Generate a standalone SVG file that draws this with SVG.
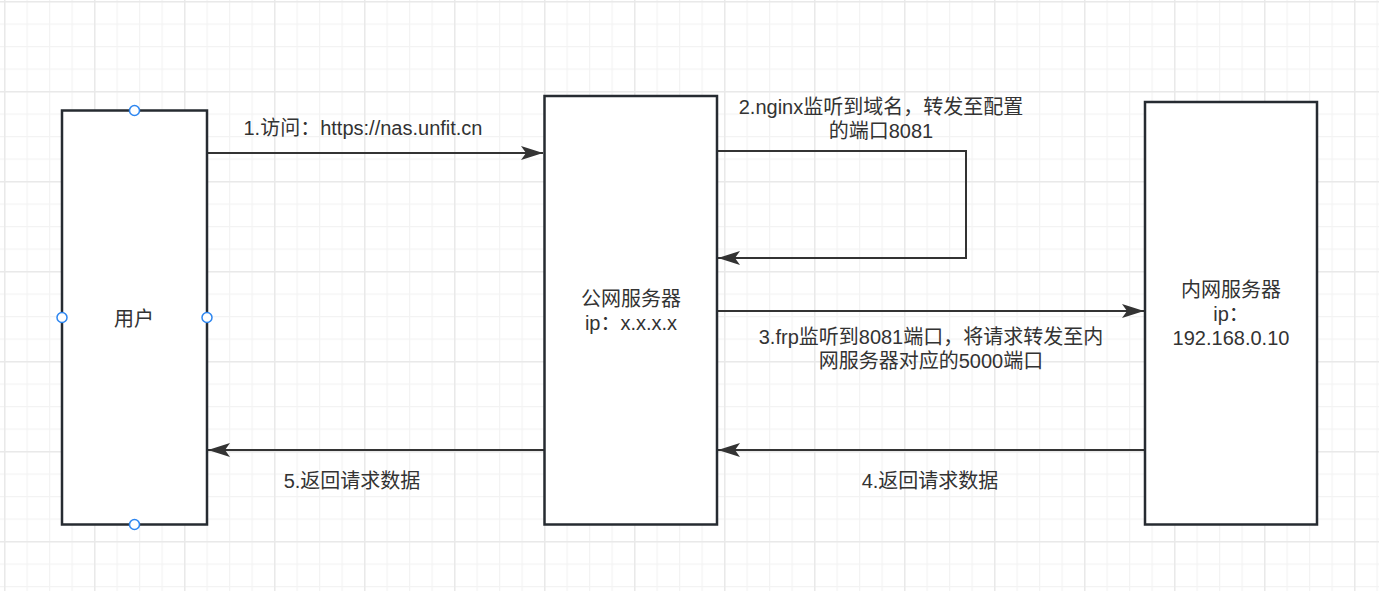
<svg xmlns="http://www.w3.org/2000/svg" width="1379" height="591" viewBox="0 0 1379 591">
  <style>
    .box { fill: #ffffff; stroke: #262b31; stroke-width: 2.5; }
    .edge { fill: none; stroke: #333333; stroke-width: 2; }
    .t { font-family: "Liberation Sans", "Noto Sans CJK SC", Arial, sans-serif; font-size: 20px; fill: #333333; }
    .c { text-anchor: middle; }
    .handle { fill: #ffffff; stroke: #2d86f0; stroke-width: 1.5; }
  </style>
  <defs>
    <pattern id="minor" patternUnits="userSpaceOnUse" x="4" y="1" width="22.5" height="22.5">
      <path d="M0.5,0 V22.5 M0,0.5 H22.5" stroke="#f3f3f3" stroke-width="1.5" fill="none"/>
    </pattern>
    <pattern id="major" patternUnits="userSpaceOnUse" x="4" y="1" width="90" height="90">
      <path d="M0.5,0 V90 M0,0.5 H90" stroke="#e9e9e9" stroke-width="2" fill="none"/>
    </pattern>
    <marker id="arrow" markerUnits="userSpaceOnUse" markerWidth="24" markerHeight="16" refX="22" refY="7" orient="auto">
      <path d="M0,0 L22,7 L0,14 L5,7 Z" fill="#333333"/>
    </marker>
  </defs>

  <rect width="1379" height="591" fill="#ffffff"/>
  <rect width="1379" height="591" fill="url(#minor)"/>
  <rect width="1379" height="591" fill="url(#major)"/>

  <g id="connectors">
    <path class="edge" d="M207,153 H543" marker-end="url(#arrow)"/>
    <path class="edge" d="M717,151 H966 V258 H718" marker-end="url(#arrow)"/>
    <path class="edge" d="M717,311 H1144" marker-end="url(#arrow)"/>
    <path class="edge" d="M1145,450 H718" marker-end="url(#arrow)"/>
    <path class="edge" d="M544,450 H208" marker-end="url(#arrow)"/>
    <text class="t c" x="363" y="135">1.访问：https://nas.unfit.cn</text>
    <text class="t c" x="881" y="114">2.nginx监听到域名，转发至配置</text>
    <text class="t c" x="881" y="138">的端口8081</text>
    <text class="t c" x="931" y="344">3.frp监听到8081端口，将请求转发至内</text>
    <text class="t c" x="931" y="368">网服务器对应的5000端口</text>
    <text class="t c" x="930" y="488">4.返回请求数据</text>
    <text class="t c" x="352" y="488">5.返回请求数据</text>
  </g>

  <g id="user">
    <rect class="box" x="62" y="110.5" width="145" height="414"/>
    <text class="t c" x="134" y="326">用户</text>
    <circle class="handle" cx="134.5" cy="110.5" r="5"/>
    <circle class="handle" cx="62" cy="317.5" r="5"/>
    <circle class="handle" cx="207" cy="317.5" r="5"/>
    <circle class="handle" cx="134.5" cy="524.5" r="5"/>
  </g>

  <g id="public-server">
    <rect class="box" x="544.5" y="96" width="172.5" height="428.5"/>
    <text class="t c" x="631" y="306">公网服务器</text>
    <text class="t c" x="631" y="330">ip：x.x.x.x</text>
  </g>

  <g id="intranet-server">
    <rect class="box" x="1145" y="102" width="172" height="422.5"/>
    <text class="t c" x="1231" y="297">内网服务器</text>
    <text class="t c" x="1231" y="321">ip：</text>
    <text class="t c" x="1231" y="345">192.168.0.10</text>
  </g>
</svg>
